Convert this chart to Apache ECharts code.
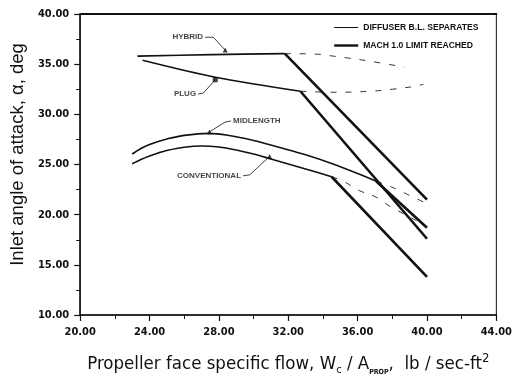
<!DOCTYPE html>
<html>
<head>
<meta charset="utf-8">
<script src="https://cdn.jsdelivr.net/npm/echarts@6/dist/echarts.min.js"></script>
<style>
  html, body { margin: 0; padding: 0; background: #fff; }
  #chart { width: 515px; height: 381px; }
</style>
</head>
<body>
<div id="chart"></div>
<script>
// Axis ticks
const xTickValues = [20, 24, 28, 32, 36, 40, 44];
const yTickValues = [10, 15, 20, 25, 30, 35, 40];

// Inlet angle of attack (deg) vs propeller face specific flow, per inlet type
const hybrid = [[23.3, 35.8], [27.6, 35.95], [31.8, 36.05]];
const hybridMach = [[31.8, 36.05], [40.0, 21.5]];
const hybridSeparation = [[31.8, 36.05], [33.6, 36.0], [34.6, 35.8], [35.5, 35.6], [36.7, 35.3], [38.7, 34.7]];

const plug = [[23.6, 35.4], [27.8, 33.7], [32.7, 32.3]];
const plugMach = [[32.7, 32.3], [40.0, 17.6]];
const plugSeparation = [[32.7, 32.3], [34.7, 32.2], [36.7, 32.3], [38.0, 32.5], [39.3, 32.8], [39.8, 33.0]];

const midlength = [[23.0, 26.05], [23.5, 26.6], [24.0, 27.0], [24.5, 27.3], [25.0, 27.55], [26.0, 27.9], [27.4, 28.1], [28.5, 27.92], [30.0, 27.4], [31.5, 26.7], [33.0, 25.97], [34.5, 25.1], [36.0, 24.1], [37.07, 23.33]];
const midlengthMach = [[37.07, 23.33], [40.0, 18.7]];
const midlengthSeparation = [[37.07, 23.33], [37.9, 22.8], [38.9, 22.0], [40.0, 21.1]];

const conventional = [[23.0, 25.07], [23.5, 25.5], [24.0, 25.85], [24.5, 26.15], [25.0, 26.4], [26.0, 26.72], [27.0, 26.85], [28.0, 26.75], [29.0, 26.45], [30.0, 26.05], [31.0, 25.55], [32.0, 25.05], [33.0, 24.55], [34.5, 23.78]];
const conventionalMach = [[34.5, 23.78], [40.0, 13.8]];
const conventionalSeparation = [[34.5, 23.78], [35.2, 23.3], [36.1, 22.4], [37.0, 21.8], [37.8, 20.9], [39.4, 19.4]];

const SEP_NAME = 'DIFFUSER B.L. SEPARATES';
const MACH_NAME = 'MACH 1.0 LIMIT REACHED';

// Curve tags: text, leader path (data coords) and the mark at the curve end
const curveTags = [
  { text: 'HYBRID', side: 'left', leader: [[27.2, 37.68], [27.68, 37.68], [28.36, 36.4]], mark: 'triangle' },
  { text: 'PLUG', side: 'left', leader: [[26.8, 32.02], [27.1, 32.12], [27.79, 33.45]], mark: 'rect' },
  { text: 'MIDLENGTH', side: 'right', leader: [[28.7, 29.33], [28.36, 29.23], [27.45, 28.25]], mark: 'triangle' },
  { text: 'CONVENTIONAL', side: 'left', leader: [[29.39, 23.87], [29.78, 23.97], [30.92, 25.8]], mark: 'triangle' }
];

const INK = '#111';
const narrow = "'Liberation Sans Narrow', 'DejaVu Sans Condensed', 'Liberation Sans', sans-serif";
const sans = "'Liberation Sans', Arial, sans-serif";

function baseCurve(name, data) {
  return { name, type: 'line', data, smooth: 0.3, symbol: 'none', silent: true,
    itemStyle: { color: INK }, lineStyle: { color: INK, width: 1.6 } };
}
function machLine(data) {
  return { name: MACH_NAME, type: 'line', data, symbol: 'none', silent: true,
    itemStyle: { color: INK }, lineStyle: { color: INK, width: 2.6 } };
}
function separationLine(data) {
  return { name: SEP_NAME, type: 'line', data, smooth: 0.4, symbol: 'none', silent: true,
    itemStyle: { color: INK }, lineStyle: { color: '#333', width: 1, type: [6, 9] } };
}

const tagSeries = [];
curveTags.forEach(t => {
  tagSeries.push({
    type: 'line', data: t.leader, symbol: 'none', silent: true,
    lineStyle: { color: INK, width: 0.8 }
  });
  tagSeries.push({
    type: 'scatter', silent: true, symbolSize: 0,
    data: [t.leader[0]],
    label: { show: true, position: t.side, distance: 2, formatter: t.text,
      color: INK, fontFamily: sans, fontWeight: 'bold', fontSize: 8 }
  });
  tagSeries.push({
    type: 'scatter', silent: true, symbol: t.mark, symbolSize: 5,
    data: [t.leader[t.leader.length - 1]],
    itemStyle: { color: INK }
  });
});

const chart = echarts.init(document.getElementById('chart'), null, { renderer: 'canvas' });
chart.setOption({
  animation: false,
  backgroundColor: '#fff',
  grid: { left: 80, right: 13, top: 14, bottom: 64, show: true, borderColor: INK, borderWidth: 1 },
  legend: {
    orient: 'vertical', left: 328, top: 18, itemWidth: 24, itemHeight: 10, itemGap: 9,
    selectedMode: false,
    textStyle: { color: INK, fontFamily: sans, fontWeight: 'bold', fontSize: 8.6 },
    data: [
      { name: SEP_NAME, itemStyle: { opacity: 0 }, lineStyle: { type: 'solid', width: 1, color: INK } },
      { name: MACH_NAME, itemStyle: { opacity: 0 }, lineStyle: { type: 'solid', width: 2.4, color: INK } }
    ]
  },
  xAxis: [{
    type: 'value', min: xTickValues[0], max: xTickValues[xTickValues.length - 1], interval: 4,
    splitLine: { show: false },
    axisLine: { lineStyle: { color: INK, width: 1.5 } },
    axisTick: { inside: false, length: 6, lineStyle: { color: INK, width: 1.2 } },
    minorTick: { show: true, splitNumber: 2, length: 4, lineStyle: { color: INK, width: 1 } },
    axisLabel: { margin: 12, color: INK, fontFamily: narrow, fontWeight: 'bold', fontSize: 11,
      formatter: v => v.toFixed(2) },
    name: 'Propeller face specific flow, W{sub|c} / A{sub2|PROP},  lb / sec-ft{sup|2}',
    nameLocation: 'middle', nameGap: 37,
    nameTextStyle: { color: INK, fontFamily: narrow, fontSize: 18.5, lineHeight: 24,
      rich: {
        sub: { fontFamily: narrow, fontSize: 11, color: INK, verticalAlign: 'bottom', lineHeight: 17 },
        sub2: { fontFamily: narrow, fontSize: 7, fontWeight: 'bold', color: INK, verticalAlign: 'bottom', lineHeight: 15 },
        sup: { fontFamily: narrow, fontSize: 13, color: INK, verticalAlign: 'top', lineHeight: 12 }
      } }
  }, {
    // top frame edge drawn a little heavier
    type: 'value', position: 'top', min: xTickValues[0], max: xTickValues[xTickValues.length - 1],
    axisLine: { lineStyle: { color: INK, width: 2 } },
    axisTick: { show: false }, axisLabel: { show: false }, splitLine: { show: false }
  }],
  yAxis: {
    type: 'value', min: yTickValues[0], max: yTickValues[yTickValues.length - 1], interval: 5,
    splitLine: { show: false },
    axisLine: { show: true, lineStyle: { color: INK, width: 1.5 } },
    axisTick: { show: true, inside: false, length: 6, lineStyle: { color: INK, width: 1.2 } },
    minorTick: { show: true, splitNumber: 2, length: 4, lineStyle: { color: INK, width: 1 } },
    axisLabel: { margin: 11, color: INK, fontFamily: narrow, fontWeight: 'bold', fontSize: 11,
      formatter: v => v.toFixed(2) },
    name: 'Inlet angle of attack, α, deg',
    nameLocation: 'middle', nameRotate: 90, nameGap: 51,
    nameTextStyle: { color: INK, fontFamily: sans, fontSize: 18.5, padding: [0, 0, 0, 20] }
  },
  series: [
    baseCurve('HYBRID', hybrid),
    baseCurve('PLUG', plug),
    baseCurve('MIDLENGTH', midlength),
    baseCurve('CONVENTIONAL', conventional),
    separationLine(hybridSeparation),
    separationLine(plugSeparation),
    separationLine(midlengthSeparation),
    separationLine(conventionalSeparation),
    machLine(hybridMach),
    machLine(plugMach),
    machLine(midlengthMach),
    machLine(conventionalMach),
    ...tagSeries
  ]
});
</script>
</body>
</html>
